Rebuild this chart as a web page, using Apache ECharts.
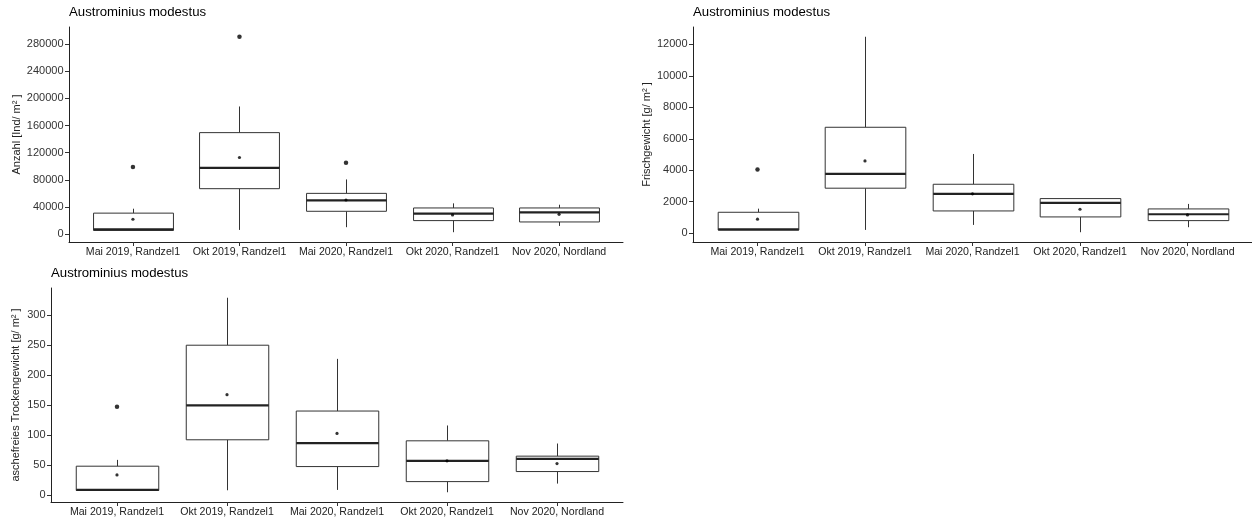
<!DOCTYPE html>
<html>
<head>
<meta charset="utf-8">
<script src="https://cdn.jsdelivr.net/npm/echarts@6/dist/echarts.min.js"></script>
<style>
html,body{margin:0;padding:0;background:#fff;}
#chart{width:1252px;height:521px;}
</style>
</head>
<body>
<div id="chart"></div>
<script>
// ---------- data ----------
const categories = ["Mai 2019, Randzel1", "Okt 2019, Randzel1", "Mai 2020, Randzel1", "Okt 2020, Randzel1", "Nov 2020, Nordland"];
const panelTitle = "Austrominius modestus";

// Anzahl [Ind/m²]: [whiskerLow, Q1, median, Q3, whiskerHigh]
const anzahlBox = [
  [5000, 5500, 7000, 31000, 37500],
  [6300, 67000, 97600, 149500, 188000],
  [10300, 33700, 49800, 60100, 80600],
  [2900, 20000, 30200, 38600, 45400],
  [12200, 18000, 32200, 38600, 43400]
];
const anzahlMean = [22000, 112900, 50300, 28300, 29300];
const anzahlOutlier = [99000, 290700, 105000, null, null];
const anzahlTicks = [0, 40000, 80000, 120000, 160000, 200000, 240000, 280000];

// Frischgewicht [g/m²]
const frischBox = [
  [200, 200, 250, 1330, 1560],
  [210, 2860, 3770, 6730, 12480],
  [527, 1415, 2500, 3110, 5035],
  [63, 1035, 1925, 2200, 2200],
  [381, 800, 1206, 1543, 1860]
];
const frischMean = [890, 4590, 2500, 1524, 1162];
const frischOutlier = [4040, null, null, null, null];
const frischTicks = [0, 2000, 4000, 6000, 8000, 10000, 12000];

// aschefreies Trockengewicht [g/m²]
const afdwBox = [
  [8, 8, 9, 48.3, 58.8],
  [8.3, 92.2, 149.4, 249.4, 328.3],
  [8.9, 47.7, 86.7, 140, 226.7],
  [5, 22.7, 57.2, 90.5, 116],
  [19.4, 39.4, 60.5, 65, 86]
];
const afdwMean = [33.8, 167.2, 102.7, 57.2, 52.7];
const afdwOutlier = [147, null, null, null, null];
const afdwTicks = [0, 50, 100, 150, 200, 250, 300];

// ---------- chart ----------
const FONT = '"Liberation Sans", Arial, sans-serif';
const catPos = categories.map((c, i) => i + 1);

function renderBox(params, api) {
  const x = api.value(0);
  const pLo = api.coord([x, api.value(1)]);
  const pQ1 = api.coord([x, api.value(2)]);
  const pMed = api.coord([x, api.value(3)]);
  const pQ3 = api.coord([x, api.value(4)]);
  const pHi = api.coord([x, api.value(5)]);
  const half = api.size([0.75, 0])[0] / 2;
  const cx = Math.round(pMed[0]) + 0.5;
  const stroke = '#333';
  return {
    type: 'group',
    children: [
      {type: 'line', shape: {x1: cx, y1: pHi[1], x2: cx, y2: pQ3[1]}, style: {stroke: stroke, lineWidth: 1}},
      {type: 'line', shape: {x1: cx, y1: pQ1[1], x2: cx, y2: pLo[1]}, style: {stroke: stroke, lineWidth: 1}},
      {type: 'rect', shape: {x: cx - half, y: pQ3[1], width: 2 * half, height: pQ1[1] - pQ3[1]},
       style: {fill: '#fff', stroke: stroke, lineWidth: 1}},
      {type: 'line', shape: {x1: cx - half, y1: pMed[1], x2: cx + half, y2: pMed[1]}, style: {stroke: '#222', lineWidth: 2.2}}
    ]
  };
}

function panelSeries(idx, box, mean, outlier) {
  return [
    {
      type: 'custom', xAxisIndex: idx, yAxisIndex: idx,
      renderItem: renderBox,
      encode: {x: 0, y: [1, 2, 3, 4, 5]},
      data: box.map((b, i) => [catPos[i]].concat(b)),
      silent: true, z: 2
    },
    {
      type: 'scatter', xAxisIndex: idx, yAxisIndex: idx,
      data: outlier.map((v, i) => v == null ? null : [catPos[i], v]).filter(d => d),
      symbol: 'circle', symbolSize: 4.5, itemStyle: {color: '#000'}, silent: true, z: 5
    },
    {
      type: 'scatter', xAxisIndex: idx, yAxisIndex: idx,
      data: mean.map((v, i) => [catPos[i], v]),
      symbol: 'circle', symbolSize: 3.2, itemStyle: {color: '#000'}, silent: true, z: 6
    }
  ];
}

function xAxisDef(idx) {
  return {
    type: 'value', gridIndex: idx, min: 0.4, max: 5.6,
    splitLine: {show: false},
    axisLine: {show: true, onZero: false, lineStyle: {color: '#222', width: 1}},
    axisTick: {show: true, customValues: catPos, length: 4, lineStyle: {color: '#333'}},
    axisLabel: {customValues: catPos, formatter: v => categories[Math.round(v) - 1],
                color: '#222', fontFamily: FONT, fontSize: 10.6, margin: 5}
  };
}

function yAxisDef(idx, min, max, ticks, name, gap) {
  return {
    type: 'value', gridIndex: idx, min: min, max: max,
    name: name, nameLocation: 'middle', nameGap: gap, nameRotate: 90,
    nameTextStyle: {color: '#222', fontFamily: FONT, fontSize: 11},
    splitLine: {show: false},
    axisLine: {show: true, onZero: false, lineStyle: {color: '#222', width: 1}},
    axisTick: {show: true, customValues: ticks, length: 4, lineStyle: {color: '#333'}},
    axisLabel: {customValues: ticks, formatter: v => String(v), color: '#333', fontFamily: FONT, fontSize: 11, margin: 5.5}
  };
}

const titleStyle = {color: '#000', fontFamily: FONT, fontSize: 13.2, fontWeight: 'normal'};

const option = {
  backgroundColor: '#fff',
  animation: false,
  title: [
    {text: panelTitle, left: 69, top: 6, textStyle: titleStyle, padding: 0},
    {text: panelTitle, left: 693, top: 6, textStyle: titleStyle, padding: 0},
    {text: panelTitle, left: 51, top: 267, textStyle: titleStyle, padding: 0}
  ],
  grid: [
    {left: 69, right: 629, top: 27, bottom: 279, outerBoundsMode: 'none', containLabel: false},
    {left: 693, right: 0, top: 27, bottom: 279, outerBoundsMode: 'none', containLabel: false},
    {left: 51, right: 629, top: 288, bottom: 19, outerBoundsMode: 'none', containLabel: false}
  ],
  xAxis: [xAxisDef(0), xAxisDef(1), xAxisDef(2)],
  yAxis: [
    yAxisDef(0, -11500, 305000, anzahlTicks, 'Anzahl [Ind/ m² ]', 47),
    yAxisDef(1, -558, 13100, frischTicks, 'Frischgewicht [g/ m² ]', 41),
    yAxisDef(2, -11.2, 344.5, afdwTicks, 'aschefreies Trockengewicht [g/ m² ]', 30)
  ],
  series: [].concat(
    panelSeries(0, anzahlBox, anzahlMean, anzahlOutlier),
    panelSeries(1, frischBox, frischMean, frischOutlier),
    panelSeries(2, afdwBox, afdwMean, afdwOutlier)
  )
};

const chart = echarts.init(document.getElementById('chart'), null, {renderer: 'canvas'});
chart.setOption(option);
</script>
</body>
</html>
